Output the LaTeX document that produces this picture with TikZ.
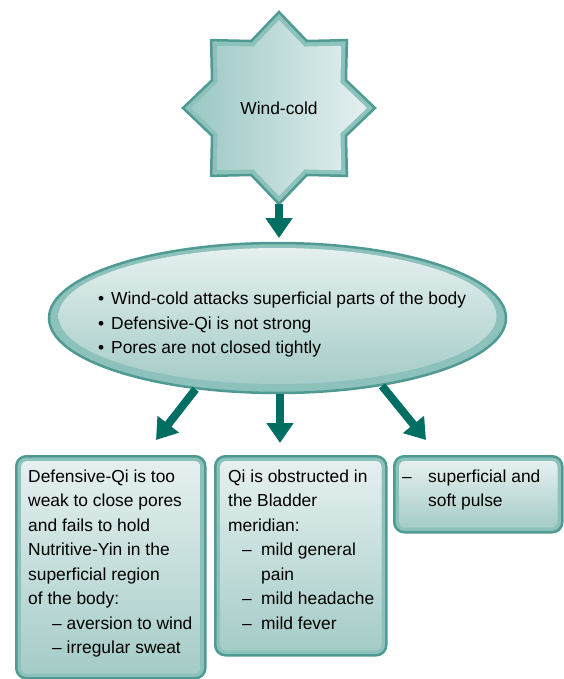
\documentclass[tikz,border=0pt]{standalone}
\usepackage{fontspec}
\setmainfont{Liberation Sans}
\usetikzlibrary{shapes.geometric,arrows.meta}

\definecolor{tealline}{HTML}{4F9A93}
\definecolor{tealarrow}{HTML}{006E62}
\definecolor{tealband}{HTML}{8DC1BC}
\definecolor{paletop}{HTML}{E5F0EF}
\definecolor{palebot}{HTML}{A5CCC8}
\definecolor{starleft}{HTML}{9CC8C4}
\definecolor{starright}{HTML}{E4F0F0}

\tikzset{
  txt/.style={inner sep=0pt, font=\fontsize{17.4}{24.5}\selectfont, align=left},
  panel/.style={draw=tealline, line width=2.5pt, fill=tealband, rounded corners=10pt,
    inner sep=0pt, anchor=north west},
  inset/.style={top color=paletop, bottom color=palebot, rounded corners=6pt},
  flow/.style={draw=tealarrow, line width=8pt,
    -{Triangle[width=26pt,length=20pt]}},
}

\begin{document}
\begin{tikzpicture}[x=1pt,y=-1pt]
\useasboundingbox (0,0) rectangle (563,679);

% eight-pointed star: outer bevel band, then shaded face
\begin{scope}[shift={(279,108)}]
  \fill[tealband] (90:96) \foreach \i in {1,...,15}{
      -- ({90+22.5*\i}:{84.25+11.75*cos(180*\i)}) } -- cycle;
  \shade[left color=starleft, right color=starright]
    (90:88) \foreach \i in {1,...,15}{
      -- ({90+22.5*\i}:{77.25+10.75*cos(180*\i)}) } -- cycle;
  \draw[tealline, line width=2.5pt, line join=miter] (90:96) \foreach \i in {1,...,15}{
      -- ({90+22.5*\i}:{84.25+11.75*cos(180*\i)}) } -- cycle;
\end{scope}
\node[circle, minimum size=192pt, inner sep=0pt, font=\fontsize{17.4}{23.5}\selectfont]
  (wind) at (279,108) {Wind-cold};

% central ellipse
\node[ellipse, draw=tealline, line width=2.5pt, fill=tealband,
  minimum width=457pt, minimum height=150pt, inner sep=0pt] (cause) at (277.5,318) {};
\shade[top color=paletop, bottom color=palebot]
  (277.5,316) ellipse [x radius=219pt, y radius=68pt];
\node[txt, anchor=north west] (causetext) at (98,292)
  {\makebox[13pt][l]{•}Wind-cold attacks superficial parts of the body\\
   \makebox[13pt][l]{•}Defensive-Qi is not strong\\
   \makebox[13pt][l]{•}Pores are not closed tightly};

% three result panels
\node[panel, minimum width=189pt, minimum height=222pt] (b1) at (15,455) {};
\shade[inset] ([shift={(6,6)}]b1.north west) rectangle ([shift={(-6,-6)}]b1.south east);
\node[panel, minimum width=171pt, minimum height=199pt] (b2) at (214,455) {};
\shade[inset] ([shift={(6,6)}]b2.north west) rectangle ([shift={(-6,-6)}]b2.south east);
\node[panel, minimum width=168pt, minimum height=76pt] (b3) at (393,455) {};
\shade[inset] ([shift={(6,6)}]b3.north west) rectangle ([shift={(-6,-6)}]b3.south east);

\node[txt, anchor=north west] (t1) at (28,469.5)
  {Defensive-Qi is too\\
   weak to close pores\\
   and fails to hold\\
   Nutritive-Yin in the\\
   superficial region\\
   of the body:\\
   \hspace*{24pt}– aversion to wind\\
   \hspace*{24pt}– irregular sweat};
\node[txt, anchor=north west] (t2) at (228,469.5)
  {Qi is obstructed in\\
   the Bladder\\
   meridian:\\
   \hspace*{14pt}\makebox[19pt][l]{–}mild general\\
   \hspace*{33pt}pain\\
   \hspace*{14pt}\makebox[19pt][l]{–}mild headache\\
   \hspace*{14pt}\makebox[19pt][l]{–}mild fever};
\node[txt, anchor=north west] (t3) at (402,469.5)
  {\makebox[26pt][l]{–}superficial and\\
   \hspace*{26pt}soft pulse};

% connectors
\coordinate (tip0) at (279,238);
\coordinate (tip1) at (156,440);
\coordinate (tip2) at (280,443);
\coordinate (tip3) at (426,440);
\draw[flow] (wind.south) -- (tip0);
\draw[flow] (cause.221) -- (tip1);
\draw[flow] (cause.south -| tip2) -- (tip2);
\draw[flow] (cause.327) -- (tip3);
\end{tikzpicture}
\end{document}
